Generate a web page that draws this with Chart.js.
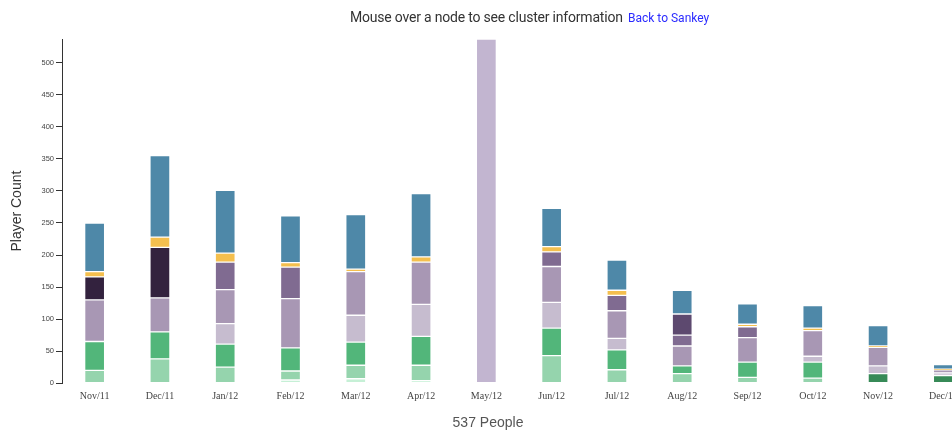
<!DOCTYPE html>
<html>
<head>
<meta charset="utf-8">
<script src="https://cdn.jsdelivr.net/npm/chart.js@4"></script>
<style>
  html, body { margin: 0; padding: 0; background: #fff; width: 952px; height: 433px; overflow: hidden; }
  #wrap { position: absolute; left: 0; top: 0; width: 976px; height: 433px; }
  #hdr { position: absolute; top: 8px; left: 350px; white-space: nowrap; font-family: 'Roboto', sans-serif; font-size: 14px; letter-spacing: -0.2px; line-height: 18px; color: #333; }
  #hdr a { font-size: 12px; letter-spacing: 0px; color: #2b2bff; text-decoration: none; margin-left: 2px; }
</style>
</head>
<body>
<div id="wrap"><canvas id="c" width="976" height="433"></canvas></div>
<div id="hdr">Mouse over a node to see cluster information <a href="#">Back to Sankey</a></div>
<script>
const categories = ['Nov/11','Dec/11','Jan/12','Feb/12','Mar/12','Apr/12','May/12','Jun/12','Jul/12','Aug/12','Sep/12','Oct/12','Nov/12','Dec/12'];
const yTicks = [0,50,100,150,200,250,300,350,400,450,500];
const yMax = 537;
const xTitle = '537 People';
const yTitle = 'Player Count';

const mint       = [null,null,null,5,7,4,null,null,null,null,null,null,null,null];
const lightGreen = [20,38,25,14,21,24,null,43,21,15,9,8,null,null];
const medGreen   = [45,42,36,36,36,45,null,43,31,12,24,25,null,null];
const darkGreen  = [null,null,null,null,null,null,null,null,null,null,null,null,15,12];
const lightLav   = [null,null,32,null,42,50,null,40,18,null,null,9,12,4];
const mayCluster = [null,null,null,null,null,null,537,null,null,null,null,null,null,null];
const medLav     = [65,53,53,77,68,66,null,56,43,31,38,40,29,5];
const purple     = [null,null,43,49,null,null,null,23,24,17,17,null,null,null];
const darkPurple = [null,null,null,null,null,null,null,null,null,33,null,null,null,null];
const veryDark   = [36,79,null,null,null,null,null,null,null,null,null,null,null,null];
const orange     = [8,16,14,7,4,8,null,8,8,null,4,4,2,1];
const blue       = [76,127,98,73,85,99,null,60,47,37,32,35,32,7];

const series = [
  ['mint', mint, '#c6f0d6'],
  ['lightGreen', lightGreen, '#95d4ad'],
  ['medGreen', medGreen, '#52b67a'],
  ['darkGreen', darkGreen, '#378a57'],
  ['lightLav', lightLav, '#c6bccf'],
  ['mayCluster', mayCluster, '#c2b5d0'],
  ['medLav', medLav, '#a897b4'],
  ['purple', purple, '#806b91'],
  ['darkPurple', darkPurple, '#5d496f'],
  ['veryDark', veryDark, '#33223e'],
  ['orange', orange, '#f4bf4e'],
  ['blue', blue, '#4e88a8']
];

new Chart(document.getElementById('c'), {
  type: 'bar',
  data: {
    labels: categories,
    datasets: series.map(([name, data, color]) => ({
      label: name,
      data: data,
      backgroundColor: color,
      borderColor: 'rgba(255,255,255,0.5)',
      borderWidth: 1,
      borderSkipped: false,
      barThickness: 20
    }))
  },
  options: {
    responsive: false,
    animation: false,
    layout: { padding: { top: 39, left: 0, right: 0, bottom: 0 } },
    plugins: {
      legend: { display: false },
      tooltip: { enabled: false },
      title: {
        display: true,
        position: 'bottom',
        text: xTitle,
        color: '#555',
        font: { family: "'Liberation Sans', Arial, sans-serif", size: 14, weight: 'normal', lineHeight: 1.2 },
        padding: { top: 0, bottom: 1 }
      }
    },
    scales: {
      x: {
        stacked: true,
        offset: true,
        grid: { display: false, drawTicks: false },
        border: { display: false },
        ticks: {
          color: '#444',
          padding: 7,
          maxRotation: 0,
          autoSkip: false,
          font: { family: "'Liberation Serif', 'Times New Roman', serif", size: 10 }
        },
        afterFit: (s) => { s.height = 32; }
      },
      y: {
        stacked: true,
        min: 0,
        max: yMax,
        afterBuildTicks: (s) => { s.ticks = yTicks.map(v => ({ value: v })); },
        grid: { drawOnChartArea: false, drawTicks: true, tickLength: 6, color: '#333', tickWidth: 1 },
        border: { display: true, color: '#333', width: 1 },
        ticks: {
          color: '#444',
          padding: 2,
          font: { family: "'Liberation Sans', Arial, sans-serif", size: 7.5 }
        },
        title: {
          display: true,
          text: yTitle,
          color: '#333',
          padding: { top: 9, bottom: 0 },
          font: { family: "'Liberation Sans', Arial, sans-serif", size: 14, weight: 'normal' }
        },
        afterFit: (s) => { s.width = 62; }
      }
    }
  }
});
</script>
</body>
</html>
